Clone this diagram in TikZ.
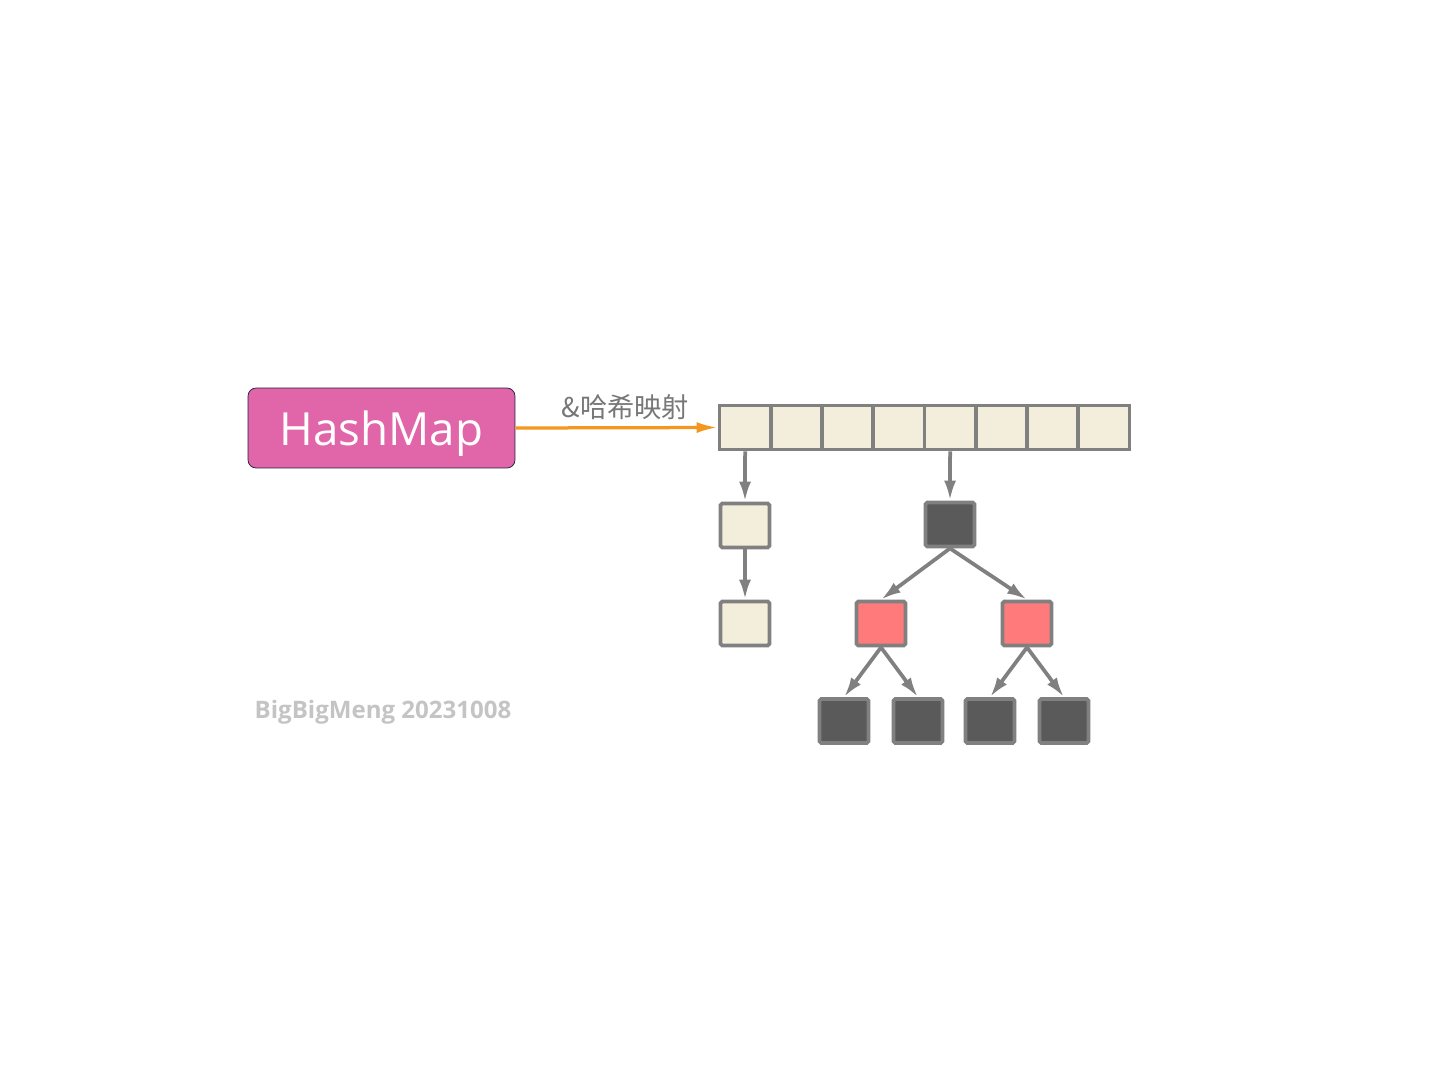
\documentclass[tikz,border=0pt]{standalone}
\usepackage{fontspec}
\setmainfont{Open Sans}
\newfontfamily\cjk{Noto Sans CJK SC}
\usepackage{tikz}
\usetikzlibrary{arrows.meta, positioning}

\definecolor{mappink}{HTML}{E065A9}
\definecolor{mapedge}{HTML}{1E1E3C}
\definecolor{bucket}{HTML}{F3EEDC}
\definecolor{edgegrey}{HTML}{808080}
\definecolor{blacknode}{HTML}{5A5A5A}
\definecolor{rednode}{HTML}{FF7B7B}
\definecolor{hashorange}{HTML}{F5961E}
\definecolor{labelgrey}{HTML}{777777}
\definecolor{markgrey}{HTML}{C4C4C4}

\begin{document}
\begin{tikzpicture}[x=0.02cm, y=-0.02cm,
	cell/.style={draw=edgegrey, line width=0.075cm, fill=bucket, minimum width=1.025cm, minimum height=0.88cm, inner sep=0pt},
	entry/.style={cell, minimum width=0.98cm, rounded corners=1pt},
	blk/.style={entry, fill=blacknode},
	rd/.style={entry, fill=rednode},
	link/.style={draw=edgegrey, line width=0.075cm, -{Latex[length=0.4cm, width=0.24cm]}}]
	\useasboundingbox (0,0) rectangle (1443,1075);
	
	% HashMap object
	\node[draw=mapedge, fill=mappink, rounded corners=0.16cm, minimum width=5.34cm, minimum height=1.6cm,
		text=white, text depth=0pt, font=\fontsize{26}{30}\selectfont] (map) at (381.5,428) {HashMap};
	
	% bucket array
	\foreach \i in {1,...,8}
		\node[cell] (cell\i) at ({719.5+51.25*(\i-0.5)},427.5) {};
	
	\draw[hashorange, line width=0.065cm, -{Latex[length=0.42cm, width=0.22cm]}] (map.east) -- (cell1.west)
		node[midway, above=0.02cm, xshift=0.18cm, text=labelgrey, font=\cjk\fontsize{15.5}{17}\selectfont] {\&哈希映射};
	
	% linked list
	\node[entry] (chainA) at (745,525.5) {};
	\node[entry] (chainB) at (745,623.5) {};
	\draw[link] (cell1.south) -- (chainA.north);
	\draw[link] (chainA.south) -- (chainB.north);
	
	% red-black tree
	\node[blk] (root) at (950,524.5) {};
	\node[rd] (redL) at (881,623.5) {};
	\node[rd] (redR) at (1027,623.5) {};
	\node[blk] (leaf1) at (844,721) {};
	\node[blk] (leaf2) at (918,721) {};
	\node[blk] (leaf3) at (990,721) {};
	\node[blk] (leaf4) at (1064,721) {};
	
	\draw[link] (cell5.south) -- (root.north);
	\draw[link] (root.south) -- (redL.north);
	\draw[link] (root.south) -- (redR.north);
	\draw[link] (redL.south) -- (leaf1.north);
	\draw[link] (redL.south) -- (leaf2.north);
	\draw[link] (redR.south) -- (leaf3.north);
	\draw[link] (redR.south) -- (leaf4.north);
	
	% watermark
	\node[text=markgrey, font=\bfseries\fontsize{13.7}{15}\selectfont] (mark) at (383,712) {BigBigMeng 20231008};
\end{tikzpicture}
\end{document}
